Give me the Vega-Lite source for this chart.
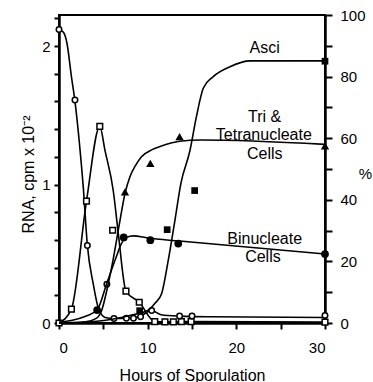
{
  "$schema": "https://vega.github.io/schema/vega-lite/v6.json",
  "width": 266,
  "height": 308,
  "autosize": "none",
  "padding": {"left": 59, "top": 15, "right": 48, "bottom": 59},
  "config": {
    "font": "Liberation Sans",
    "view": {"stroke": "black", "strokeWidth": 2},
    "axis": {
      "grid": false,
      "domainColor": "black",
      "domainWidth": 2.5,
      "tickColor": "black",
      "tickWidth": 2,
      "labelColor": "black",
      "titleColor": "black",
      "labelFont": "Liberation Sans",
      "titleFont": "Liberation Sans",
      "labelFontSize": 15,
      "titleFontSize": 16,
      "titleFontWeight": "normal"
    }
  },
  "datasets": {
    "rnaCurves": [
      {"s": "c", "h": 0, "v": 2.12},
      {"s": "c", "h": 0.5, "v": 2.1},
      {"s": "c", "h": 0.9, "v": 2.02},
      {"s": "c", "h": 1.4, "v": 1.78},
      {"s": "c", "h": 1.8, "v": 1.6},
      {"s": "c", "h": 2.3, "v": 1.3},
      {"s": "c", "h": 2.75, "v": 0.97},
      {"s": "c", "h": 3.2, "v": 0.56},
      {"s": "c", "h": 3.87, "v": 0.28},
      {"s": "c", "h": 4.43, "v": 0.11},
      {"s": "c", "h": 5.2, "v": 0.04},
      {"s": "c", "h": 6.2, "v": 0.032},
      {"s": "c", "h": 7.6, "v": 0.035},
      {"s": "c", "h": 9.0, "v": 0.045},
      {"s": "c", "h": 10.45, "v": 0.09},
      {"s": "c", "h": 11.5, "v": 0.06},
      {"s": "c", "h": 13.6, "v": 0.05},
      {"s": "c", "h": 17, "v": 0.045},
      {"s": "c", "h": 30, "v": 0.04},
      {"s": "s", "h": 0, "v": 0},
      {"s": "s", "h": 1.4, "v": 0.1},
      {"s": "s", "h": 3.1, "v": 0.88},
      {"s": "s", "h": 4.6, "v": 1.42},
      {"s": "s", "h": 5.19, "v": 1.245},
      {"s": "s", "h": 6.12, "v": 0.955},
      {"s": "s", "h": 6.69, "v": 0.646},
      {"s": "s", "h": 7.55, "v": 0.23},
      {"s": "s", "h": 9.05, "v": 0.15},
      {"s": "s", "h": 10.8, "v": 0.01},
      {"s": "s", "h": 11.95, "v": 0.008},
      {"s": "s", "h": 12.9, "v": 0.008},
      {"s": "s", "h": 13.8, "v": 0.01},
      {"s": "s", "h": 14.9, "v": 0.01},
      {"s": "s", "h": 30, "v": 0.006}
    ],
    "openCircles": [
      {"h": 0, "v": 2.12},
      {"h": 1.8, "v": 1.61},
      {"h": 3.2, "v": 0.56},
      {"h": 5.4, "v": 0.28},
      {"h": 6.2, "v": 0.032},
      {"h": 7.6, "v": 0.035},
      {"h": 8.4, "v": 0.035},
      {"h": 9.2, "v": 0.045},
      {"h": 10.45, "v": 0.09},
      {"h": 13.6, "v": 0.05},
      {"h": 15.0, "v": 0.05},
      {"h": 30, "v": 0.055}
    ],
    "openSquares": [
      {"h": 0, "v": 0},
      {"h": 1.4, "v": 0.1},
      {"h": 3.1, "v": 0.88},
      {"h": 4.6, "v": 1.42},
      {"h": 6.05, "v": 0.67},
      {"h": 7.55, "v": 0.23},
      {"h": 9.05, "v": 0.15},
      {"h": 10.8, "v": 0.01},
      {"h": 11.95, "v": 0.008},
      {"h": 12.9, "v": 0.008},
      {"h": 13.8, "v": 0.01},
      {"h": 14.9, "v": 0.01},
      {"h": 30, "v": 0.006}
    ],
    "pctCurves": [
      {"s": "b", "h": 0, "v": 0.3},
      {"s": "b", "h": 1.5, "v": 0.9},
      {"s": "b", "h": 3, "v": 2.2},
      {"s": "b", "h": 4.3, "v": 4.2},
      {"s": "b", "h": 5.4, "v": 13},
      {"s": "b", "h": 6.4, "v": 21},
      {"s": "b", "h": 7.0, "v": 25.5},
      {"s": "b", "h": 7.6, "v": 27.8},
      {"s": "b", "h": 8.4, "v": 28.3},
      {"s": "b", "h": 10, "v": 27.6},
      {"s": "b", "h": 13.6, "v": 26.6},
      {"s": "b", "h": 30, "v": 22.4},
      {"s": "t", "h": 0, "v": 0},
      {"s": "t", "h": 3, "v": 0.4},
      {"s": "t", "h": 4.2, "v": 1.5},
      {"s": "t", "h": 4.8, "v": 4},
      {"s": "t", "h": 5.5, "v": 12},
      {"s": "t", "h": 6.1, "v": 20.5},
      {"s": "t", "h": 6.8, "v": 32},
      {"s": "t", "h": 7.44, "v": 42},
      {"s": "t", "h": 8.0, "v": 47.5},
      {"s": "t", "h": 8.6, "v": 51},
      {"s": "t", "h": 9.3, "v": 54},
      {"s": "t", "h": 10.45, "v": 56.2},
      {"s": "t", "h": 11.4, "v": 57.3},
      {"s": "t", "h": 13.6, "v": 59},
      {"s": "t", "h": 16, "v": 59.4},
      {"s": "t", "h": 30, "v": 58},
      {"s": "a", "h": 0, "v": 0},
      {"s": "a", "h": 4, "v": 0.5},
      {"s": "a", "h": 6, "v": 1.2},
      {"s": "a", "h": 8.2, "v": 2.6},
      {"s": "a", "h": 10.07, "v": 4.2},
      {"s": "a", "h": 10.83, "v": 6.4},
      {"s": "a", "h": 11.58, "v": 9.6},
      {"s": "a", "h": 12.33, "v": 20.5},
      {"s": "a", "h": 13.0, "v": 32},
      {"s": "a", "h": 13.76, "v": 45.5},
      {"s": "a", "h": 14.77, "v": 56},
      {"s": "a", "h": 15.5, "v": 67},
      {"s": "a", "h": 16.27, "v": 76.2},
      {"s": "a", "h": 17.4, "v": 80},
      {"s": "a", "h": 19.28, "v": 83.2},
      {"s": "a", "h": 21.54, "v": 85.1},
      {"s": "a", "h": 30, "v": 85.1}
    ],
    "filledCircles": [
      {"h": 4.3, "v": 4.2},
      {"h": 7.3, "v": 27.8},
      {"h": 10.3, "v": 26.9},
      {"h": 13.45, "v": 25.8},
      {"h": 30, "v": 22.4}
    ],
    "triangles": [
      {"h": 7.44, "v": 42.6},
      {"h": 10.3, "v": 51.8},
      {"h": 13.6, "v": 60.5},
      {"h": 30, "v": 57.5}
    ],
    "filledSquares": [
      {"h": 9.1, "v": 4},
      {"h": 12.2, "v": 30.3},
      {"h": 15.3, "v": 43},
      {"h": 30, "v": 85}
    ],
    "labels": [
      {"h": 23.2, "v": 89.3, "t": "Asci"},
      {"h": 23.2, "v": 66.9, "t": "Tri &"},
      {"h": 23.1, "v": 61, "t": "Tetranucleate"},
      {"h": 23.2, "v": 54.9, "t": "Cells"},
      {"h": 23.2, "v": 27.2, "t": "Binucleate"},
      {"h": 23.0, "v": 21.3, "t": "Cells"}
    ]
  },
  "encoding": {
    "x": {
      "field": "h",
      "type": "quantitative",
      "scale": {"domain": [0, 30], "nice": false, "zero": false},
      "axis": {
        "title": "Hours of Sporulation",
        "values": [0, 5, 10, 15, 20, 25, 30],
        "labelExpr": "datum.value % 10 === 0 ? datum.label : ''",
        "labelOverlap": false,
        "tickSize": 6,
        "labelPadding": 11,
        "titleY": 57,
        "titleBaseline": "alphabetic"
      }
    }
  },
  "layer": [
    {
      "encoding": {
        "y": {
          "field": "v",
          "type": "quantitative",
          "scale": {"domain": [0, 2.224], "nice": false},
          "axis": {
            "orient": "left",
            "title": "RNA, cpm x 10⁻²",
            "values": [0, 0.2, 0.4, 0.6, 0.8, 1, 1.2, 1.4, 1.6, 1.8, 2, 2.2],
            "labelExpr": "datum.value === 0 ? '0' : datum.value === 1 ? '1' : datum.value === 2 ? '2' : ''",
            "labelOverlap": false,
            "tickSize": 5,
            "labelPadding": 4,
            "titleAngle": -90,
            "titleX": -31,
            "titleY": 159,
            "titleAlign": "center",
            "titleBaseline": "middle"
          }
        }
      },
      "layer": [
        {
          "data": {"name": "rnaCurves"},
          "mark": {"type": "line", "interpolate": "monotone", "color": "black", "strokeWidth": 1.6},
          "encoding": {"detail": {"field": "s"}}
        },
        {
          "data": {"name": "openSquares"},
          "mark": {"type": "point", "shape": "square", "filled": true, "fill": "white", "stroke": "black", "strokeWidth": 1.5, "size": 32, "opacity": 1}
        },
        {
          "data": {"name": "openCircles"},
          "mark": {"type": "point", "shape": "circle", "filled": true, "fill": "white", "stroke": "black", "strokeWidth": 1.5, "size": 30, "opacity": 1}
        }
      ]
    },
    {
      "encoding": {
        "y": {
          "field": "v",
          "type": "quantitative",
          "scale": {"domain": [0, 100], "nice": false},
          "axis": {
            "orient": "right",
            "title": "%",
            "values": [0, 10, 20, 30, 40, 50, 60, 70, 80, 90, 100],
            "labelExpr": "datum.value % 20 === 0 ? datum.label : ''",
            "labelOverlap": false,
            "tickSize": 7,
            "labelPadding": 8,
            "titleAngle": 0,
            "titleX": 40,
            "titleY": 158,
            "titleFontSize": 15,
            "titleAlign": "center",
            "titleBaseline": "middle"
          }
        }
      },
      "layer": [
        {
          "data": {"name": "pctCurves"},
          "mark": {"type": "line", "interpolate": "monotone", "color": "black", "strokeWidth": 1.6},
          "encoding": {"detail": {"field": "s"}}
        },
        {
          "data": {"name": "filledCircles"},
          "mark": {"type": "point", "shape": "circle", "filled": true, "color": "black", "size": 60, "opacity": 1}
        },
        {
          "data": {"name": "triangles"},
          "mark": {"type": "point", "shape": "triangle-up", "filled": true, "color": "black", "size": 70, "opacity": 1}
        },
        {
          "data": {"name": "filledSquares"},
          "mark": {"type": "point", "shape": "square", "filled": true, "color": "black", "size": 45, "opacity": 1}
        },
        {
          "data": {"name": "labels"},
          "mark": {"type": "text", "font": "Liberation Sans", "fontSize": 16, "color": "black", "align": "center", "baseline": "middle"},
          "encoding": {"text": {"field": "t"}}
        }
      ]
    }
  ],
  "resolve": {"scale": {"y": "independent"}}
}
